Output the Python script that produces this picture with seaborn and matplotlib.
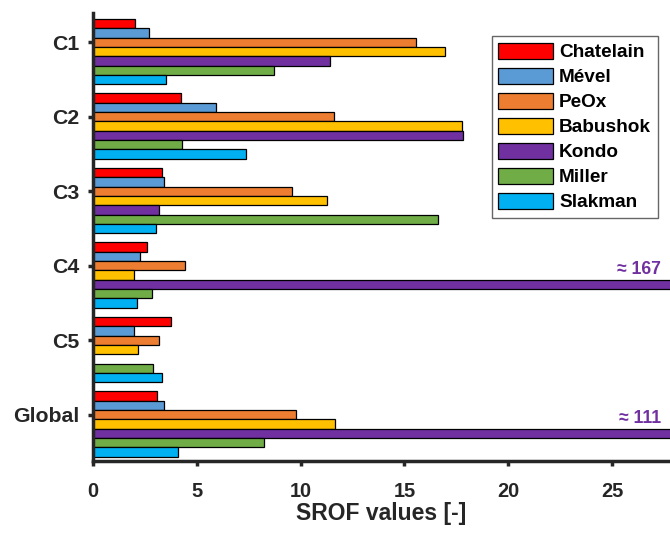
import numpy as np
import pandas as pd
import matplotlib
matplotlib.use("Agg")
import matplotlib.pyplot as plt
import seaborn as sns

categories = ["C1", "C2", "C3", "C4", "C5", "Global"]
series = ["Chatelain", "Mével", "PeOx", "Babushok", "Kondo", "Miller", "Slakman"]
colors = ["#FF0000", "#5B9BD5", "#ED7D31", "#FFC000", "#7030A0", "#70AD47", "#00B0F0"]

chatelain = [2.01, 4.23, 3.31, 2.62, 3.76, 3.10]
mevel = [2.68, 5.91, 3.41, 2.28, 1.99, 3.44]
peox = [15.57, 11.63, 9.61, 4.45, 3.20, 9.80]
babushok = [16.95, 17.77, 11.29, 1.98, 2.17, 11.68]
kondo = [11.44, 17.82, 3.17, 167.0, np.nan, 111.0]
miller = [8.74, 4.27, 16.64, 2.86, 2.91, 8.26]
slakman = [3.50, 7.36, 3.04, 2.14, 3.31, 4.08]

values = [chatelain, mevel, peox, babushok, kondo, miller, slakman]
x_max = 27.8

sns.set_style("ticks")
plt.rcParams["font.family"] = ["Liberation Sans", "DejaVu Sans"]
plt.rcParams["font.weight"] = "bold"

rows = []
for s, vals in zip(series, values):
    for c, v in zip(categories, vals):
        rows.append({"cat": c, "series": s, "value": v})
df = pd.DataFrame(rows)

fig = plt.figure(figsize=(6.7, 5.33), dpi=100)
ax = fig.add_axes([93 / 670, 72 / 533, 577 / 670, 448 / 533])

width = 0.875
sns.barplot(data=df, y="cat", x="value", hue="series", order=categories,
            hue_order=series, palette=dict(zip(series, colors)), orient="h",
            width=width, gap=0, saturation=1, edgecolor="black", linewidth=0.9,
            ax=ax, legend=True)

bar_h = width / len(series)
ax.set_xlim(0, x_max)
ax.set_ylim(len(categories) - 1 + width / 2 + 0.058, -width / 2 - 0.08)
ax.set_yticks([i - bar_h for i in range(len(categories))])
ax.set_yticklabels(categories)
ax.set_xticks([0, 5, 10, 15, 20, 25])
ax.set_ylabel("")
ax.set_xlabel("SROF values [-]", fontsize=16.5, fontweight="bold", color="#262626",
              labelpad=0.5)

for lab in ax.get_yticklabels() + ax.get_xticklabels():
    lab.set_fontweight("bold")
ax.tick_params(axis="y", labelsize=15.3, length=3.6, width=2.5, colors="#262626", pad=6.5)
ax.tick_params(axis="x", labelsize=14.4, length=3.6, width=2.5, colors="#262626", pad=11.5)

for side in ["top", "right"]:
    ax.spines[side].set_visible(False)
for side in ["left", "bottom"]:
    ax.spines[side].set_linewidth(2.5)
    ax.spines[side].set_color("#262626")

# annotations for out-of-range Kondo bars
k_idx = series.index("Kondo")
for i, v in enumerate(kondo):
    if not np.isnan(v) and v > x_max:
        y_top = i + (k_idx - (len(series) - 1) / 2) * bar_h - bar_h / 2
        ax.annotate(f"≈ {v:.0f}", xy=(x_max, y_top), xytext=(-6.5, 1.5),
                    textcoords="offset points", ha="right", va="bottom",
                    color="#7030A0", fontsize=12.7, fontweight="bold",
                    annotation_clip=False)

handles, labels = ax.get_legend_handles_labels()
leg = ax.legend(handles, labels, loc="upper right", bbox_to_anchor=(0.979, 0.949),
                borderaxespad=0, fancybox=False, frameon=True, edgecolor="#404040",
                fontsize=13.7, handlelength=2.85, handleheight=0.95,
                labelspacing=0.33, handletextpad=0.35, borderpad=0.35, title=None)
leg.get_frame().set_linewidth(1.0)
for t in leg.get_texts():
    t.set_fontweight("bold")
    t.set_color("black")

fig.savefig("out.png", dpi=100)
